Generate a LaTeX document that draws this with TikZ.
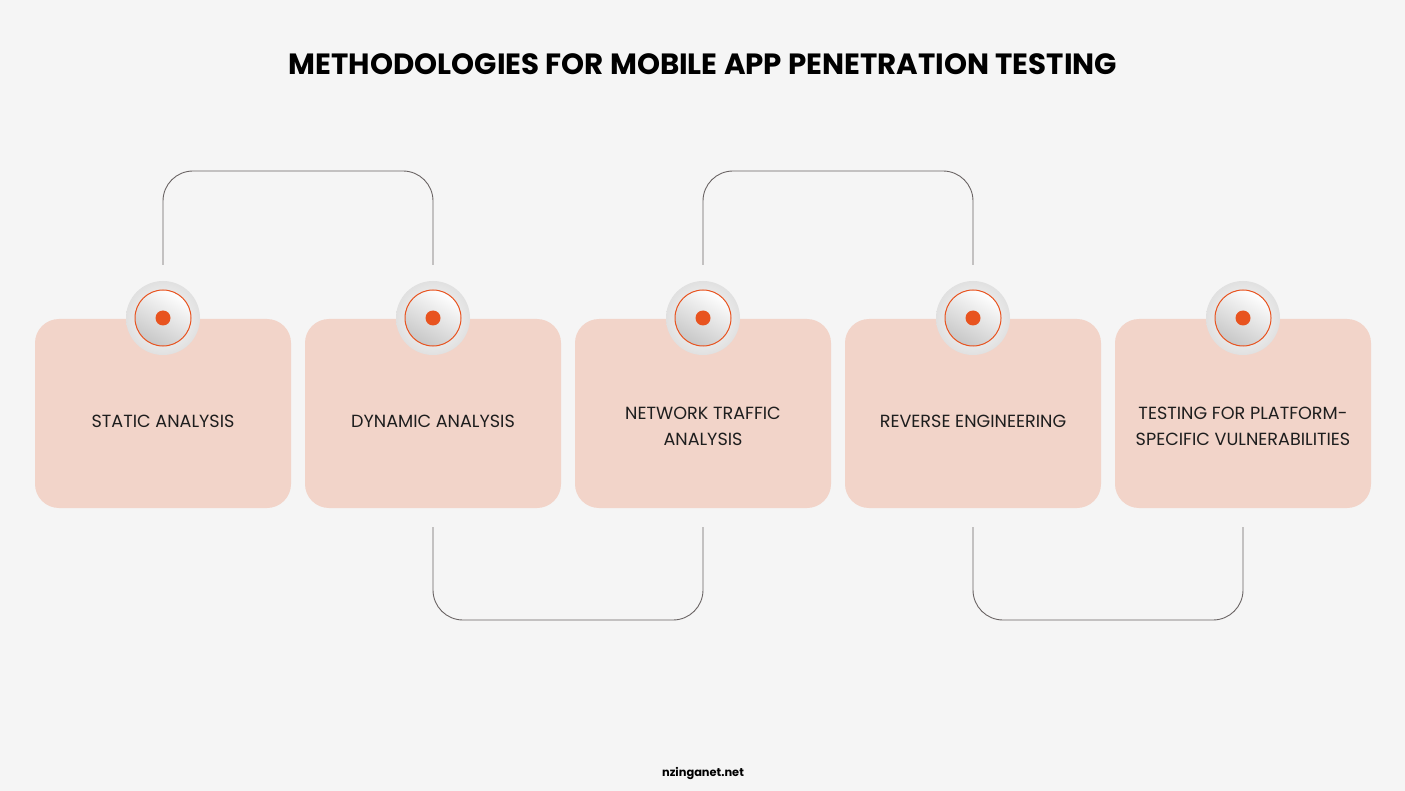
\documentclass[tikz,border=0pt]{standalone}
\usepackage{fontspec}
\setmainfont{Poppins}
\begin{document}
\begin{tikzpicture}[x=1pt,y=-1pt,
  box/.style={fill=boxc, rounded corners=24pt, minimum width=256pt, minimum height=189pt, inner sep=0pt},
  lbl/.style={align=center, font=\fontsize{17.6}{26}\selectfont, text=txt},
  conn/.style={draw=linec, line width=0.9pt, rounded corners=30pt},
]
\definecolor{bg}{HTML}{F5F5F5}
\definecolor{boxc}{HTML}{F2D4C9}
\definecolor{org}{HTML}{E8531F}
\definecolor{linec}{HTML}{6A6464}
\definecolor{txt}{HTML}{1E1E1E}
\fill[bg] (0,0) rectangle (1405,791);
\useasboundingbox (0,0) rectangle (1405,791);

\node[font=\fontsize{29.3}{33}\selectfont\bfseries, text=black] (title) at (703,64) {METHODOLOGIES FOR MOBILE APP PENETRATION TESTING};
\node[font=\fontsize{11.4}{13}\selectfont\bfseries, text=black] (foot) at (703,773) {nzinganet.net};

% connectors
\coordinate (t1) at (163,265); \coordinate (t2) at (433,265);
\coordinate (t3) at (703,265); \coordinate (t4) at (973,265);
\coordinate (b2) at (433,527); \coordinate (b3) at (703,527);
\coordinate (b4) at (973,527); \coordinate (b5) at (1243,527);
\draw[conn] (t1) |- (298,171) -| (t2);
\draw[conn] (t3) |- (838,171) -| (t4);
\draw[conn] (b2) |- (568,620) -| (b3);
\draw[conn] (b4) |- (1108,620) -| (b5);

\foreach \i/\x/\y/\t in {1/163/421/{STATIC ANALYSIS},2/433/421/{DYNAMIC ANALYSIS},3/703/426.5/{NETWORK TRAFFIC\\ANALYSIS},4/973/421/{REVERSE ENGINEERING},5/1243/426.5/{TESTING FOR PLATFORM-\\SPECIFIC VULNERABILITIES}}{
  \node[box] (box\i) at (\x,413.5) {};
  \node[lbl] (lab\i) at (\x,\y) {\t};
  \node[circle, minimum size=74pt, inner sep=0pt, inner color=white, outer color=black!12] (ring\i) at (\x,318) {};
  \node[circle, minimum size=56pt, inner sep=0pt, draw=org, line width=1pt, shading=axis, top color=white, bottom color=black!22, shading angle=-30] (disc\i) at (\x,318) {};
  \node[circle, minimum size=15pt, inner sep=0pt, fill=org] (dot\i) at (\x,318) {};
}
\end{tikzpicture}
\end{document}
